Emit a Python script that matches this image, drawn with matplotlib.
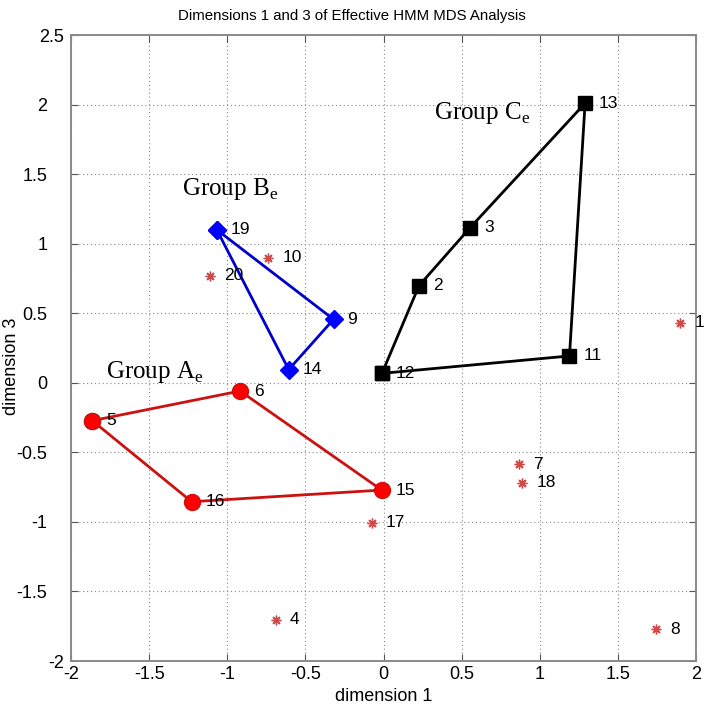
import numpy as np
import matplotlib
matplotlib.use('Agg')
import matplotlib.pyplot as plt
from matplotlib.ticker import FormatStrFormatter
from matplotlib.transforms import ScaledTranslation

plt.rcParams['font.family'] = ['Liberation Sans Narrow', 'Liberation Sans', 'DejaVu Sans']
plt.rcParams['mathtext.fontset'] = 'custom'
plt.rcParams['mathtext.rm'] = 'Liberation Serif'

# MDS coordinates (dimension 1, dimension 3) for the 20 models
ids = np.arange(1, 21)
dim1 = [1.90, 0.227, 0.554, -0.688, -1.864, -0.918, 0.869, 1.744, -0.32, -0.737,
        1.19, -0.01, 1.29, -0.607, -0.012, -1.228, -0.076, 0.888, -1.067, -1.11]
dim3 = [0.43, 0.698, 1.115, -1.705, -0.272, -0.059, -0.586, -1.772, 0.456, 0.90,
        0.193, 0.068, 2.01, 0.095, -0.771, -0.855, -1.006, -0.718, 1.10, 0.77]

group_a = [5, 6, 15, 16, 5]
group_b = [19, 9, 14, 19]
group_c = [12, 2, 3, 13, 11, 12]
grouped = set(group_a + group_b + group_c)

x = dict(zip(ids, dim1))
y = dict(zip(ids, dim3))

fig = plt.figure(figsize=(7.04, 7.15), dpi=100)
ax = fig.add_axes([0.1009, 0.0755, 0.8878, 0.8755])

# ungrouped models
loose = [i for i in ids if i not in grouped]
ax.plot([x[i] for i in loose], [y[i] for i in loose], linestyle='none',
        marker=(8, 2, 0), markersize=7, markeredgewidth=1, color='#d04848')

ax.plot([x[i] for i in group_c], [y[i] for i in group_c], color='black', lw=2,
        marker='s', markersize=9.5)
ax.plot([x[i] for i in group_b], [y[i] for i in group_b], color='#0000cc', lw=2,
        marker='D', markersize=9, markerfacecolor='blue', markeredgecolor='blue')
ax.plot([x[i] for i in group_a], [y[i] for i in group_a], color='#cc1111', lw=2,
        marker='o', markersize=11.5, markerfacecolor='red', markeredgecolor='#cc1111')

for i in ids:
    ax.annotate(str(i), (x[i], y[i]), xytext=(14, 0), textcoords='offset pixels',
                ha='left', va='center', fontsize=12.5, annotation_clip=False)

group_font = dict(fontsize=18, family='Liberation Serif', va='center', ha='left')
ax.text(-1.29, 1.39, r'Group B$_\mathregular{e}$', **group_font)
ax.text(0.323, 1.94, r'Group C$_\mathregular{e}$', **group_font)
ax.text(-1.776, 0.08, r'Group A$_\mathregular{e}$', **group_font)

ax.set_xlim(-2, 2)
ax.set_ylim(-2, 2.5)
ax.set_xticks(np.arange(-2, 2.01, 0.5))
ax.set_yticks(np.arange(-2, 2.51, 0.5))
ax.xaxis.set_major_formatter(FormatStrFormatter('%g'))
ax.yaxis.set_major_formatter(FormatStrFormatter('%g'))
ax.tick_params(direction='in', length=5, width=0.8, color='#555555', labelsize=13,
               top=True, right=True)
ax.tick_params(axis='y', pad=17)
ax.grid(True, color='#888888', linestyle=(0, (1, 2.5)), linewidth=0.8)
for s in ax.spines.values():
    s.set_color('#8a8a8a')
    s.set_linewidth(1.4)

# end labels of the y axis sit closer to the spine
fig.canvas.draw()
ylabels = ax.get_yticklabels()
for lab in (ylabels[0], ylabels[-1]):
    lab.set_transform(lab.get_transform() + ScaledTranslation(17 / 100, 0, fig.dpi_scale_trans))

ax.set_xlabel('dimension 1', fontsize=13, labelpad=4)
ax.set_ylabel('dimension 3', fontsize=13)
ax.yaxis.set_label_coords(-0.082, 0.47)
fig.text(0.5, 0.978, 'Dimensions 1 and 3 of Effective HMM MDS Analysis',
         ha='center', va='center', fontsize=10.8)

fig.savefig('out.png', dpi=100)
